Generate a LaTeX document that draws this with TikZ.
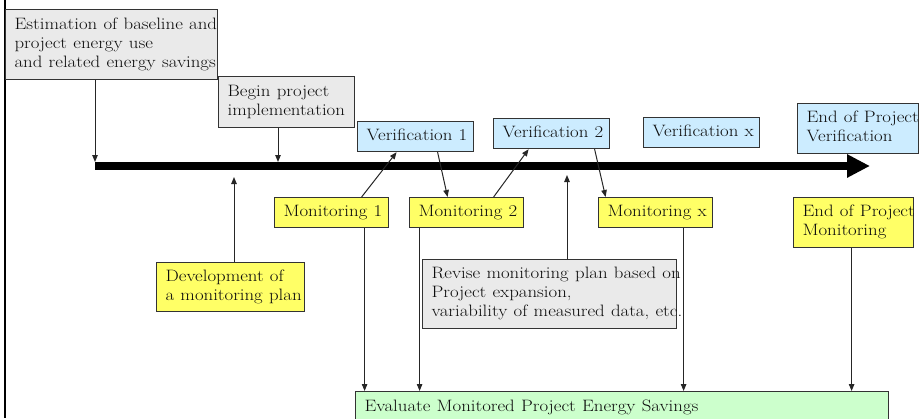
\documentclass[tikz,border=0pt]{standalone}
\usetikzlibrary{arrows.meta}
\definecolor{boxgray}{HTML}{EAEAEA}
\definecolor{verblue}{HTML}{CCECFF}
\definecolor{monyellow}{HTML}{FFFF66}
\definecolor{evalgreen}{HTML}{CCFFCC}
\newcommand{\stagetext}[1]{\scalebox{1.14}[1]{\begin{tabular}{@{}l@{}}#1\end{tabular}}}
\tikzset{stage/.style={draw=black!80,line width=1.2pt,anchor=north west,align=left,inner xsep=9pt,inner ysep=2pt,
  text=black!95,font=\fontsize{16.5}{19}\selectfont}}
\tikzset{plan/.style={stage,fill=boxgray}}
\tikzset{verif/.style={stage,fill=verblue}}
\tikzset{monit/.style={stage,fill=monyellow}}
\tikzset{evalbox/.style={stage,fill=evalgreen}}
\tikzset{link/.style={draw=black!85,line width=1pt,-{Triangle[length=7pt,width=5.5pt]}}}
\tikzset{timeline/.style={draw=black,line width=8pt,-{Triangle[length=23pt,width=22pt]}}}

\begin{document}
\begin{tikzpicture}[x=1pt,y=-1pt]
    \clip (0,0) rectangle (921,418);
    \draw[line width=2.2pt] (5,0) -- (5,418);
    % time axis
    \coordinate (tlA) at (95,166);
    \coordinate (tlB) at (870,166);
    \coordinate (t-beg) at (278,166);
    \coordinate (t-dev) at (234,166);
    \coordinate (t-rev) at (567,166);
    \draw[timeline] (tlA) -- (tlB);
    % boxes above the axis
    \node[plan,text width=194pt,minimum height=70pt] (est) at (5,9) {\stagetext{Estimation of baseline and\\project energy use\\and related energy savings}};
    \node[plan,text width=118pt,minimum height=51pt] (beg) at (218,76) {\stagetext{Begin project\\implementation}};
    \node[verif,text width=98pt,minimum height=30pt] (ver1) at (357,121) {\stagetext{Verification 1}};
    \node[verif,text width=98pt,minimum height=30pt] (ver2) at (493,118) {\stagetext{Verification 2}};
    \node[verif,text width=98pt,minimum height=30pt] (verx) at (643,117) {\stagetext{Verification x}};
    \node[verif,text width=103pt,minimum height=50pt] (verend) at (797,103) {\stagetext{End of Project\\Verification}};
    % boxes below the axis
    \node[monit,text width=96pt,minimum height=30pt] (mon1) at (274,197) {\stagetext{Monitoring 1}};
    \node[monit,text width=96pt,minimum height=30pt] (mon2) at (409,197) {\stagetext{Monitoring 2}};
    \node[monit,text width=96pt,minimum height=30pt] (monx) at (598,197) {\stagetext{Monitoring x}};
    \node[monit,text width=102pt,minimum height=50pt] (monend) at (793,197) {\stagetext{End of Project\\Monitoring}};
    \node[monit,text width=130pt,minimum height=49pt] (dev) at (156,262) {\stagetext{Development of\\a monitoring plan}};
    \node[plan,text width=236pt,minimum height=69pt] (rev) at (422,259) {\stagetext{Revise monitoring plan based on\\Project expansion,\\variability of measured data, etc.}};
    \node[evalbox,text width=515pt,minimum height=33pt] (eval) at (355,391) {\stagetext{Evaluate Monitored Project Energy Savings}};
    % links to the axis
    \draw[link] (est.south -| tlA) -- ([yshift=4pt]tlA);
    \draw[link] (beg.south -| t-beg) -- ([yshift=4pt]t-beg);
    \draw[link] (dev.north -| t-dev) -- ([yshift=-11pt]t-dev);
    \draw[link] (rev.north -| t-rev) -- ([yshift=-9pt]t-rev);
    % monitoring and verification
    \draw[link] ([xshift=30pt]mon1.north) -- ([xshift=-19pt]ver1.south);
    \draw[link] ([xshift=22pt]ver1.south) -- ([xshift=-19pt]mon2.north);
    \draw[link] ([xshift=27pt]mon2.north) -- ([xshift=-23pt]ver2.south);
    \draw[link] ([xshift=43pt]ver2.south) -- ([xshift=-50pt]monx.north);
    % down to the evaluation
    \draw[link] ([xshift=33pt]mon1.south) -- ([xshift=33pt]mon1.south |- eval.north);
    \draw[link] ([xshift=-47pt]mon2.south) -- ([xshift=-47pt]mon2.south |- eval.north);
    \draw[link] ([xshift=28pt]monx.south) -- ([xshift=28pt]monx.south |- eval.north);
    \draw[link] ([xshift=-2pt]monend.south) -- ([xshift=-2pt]monend.south |- eval.north);
\end{tikzpicture}
\end{document}
